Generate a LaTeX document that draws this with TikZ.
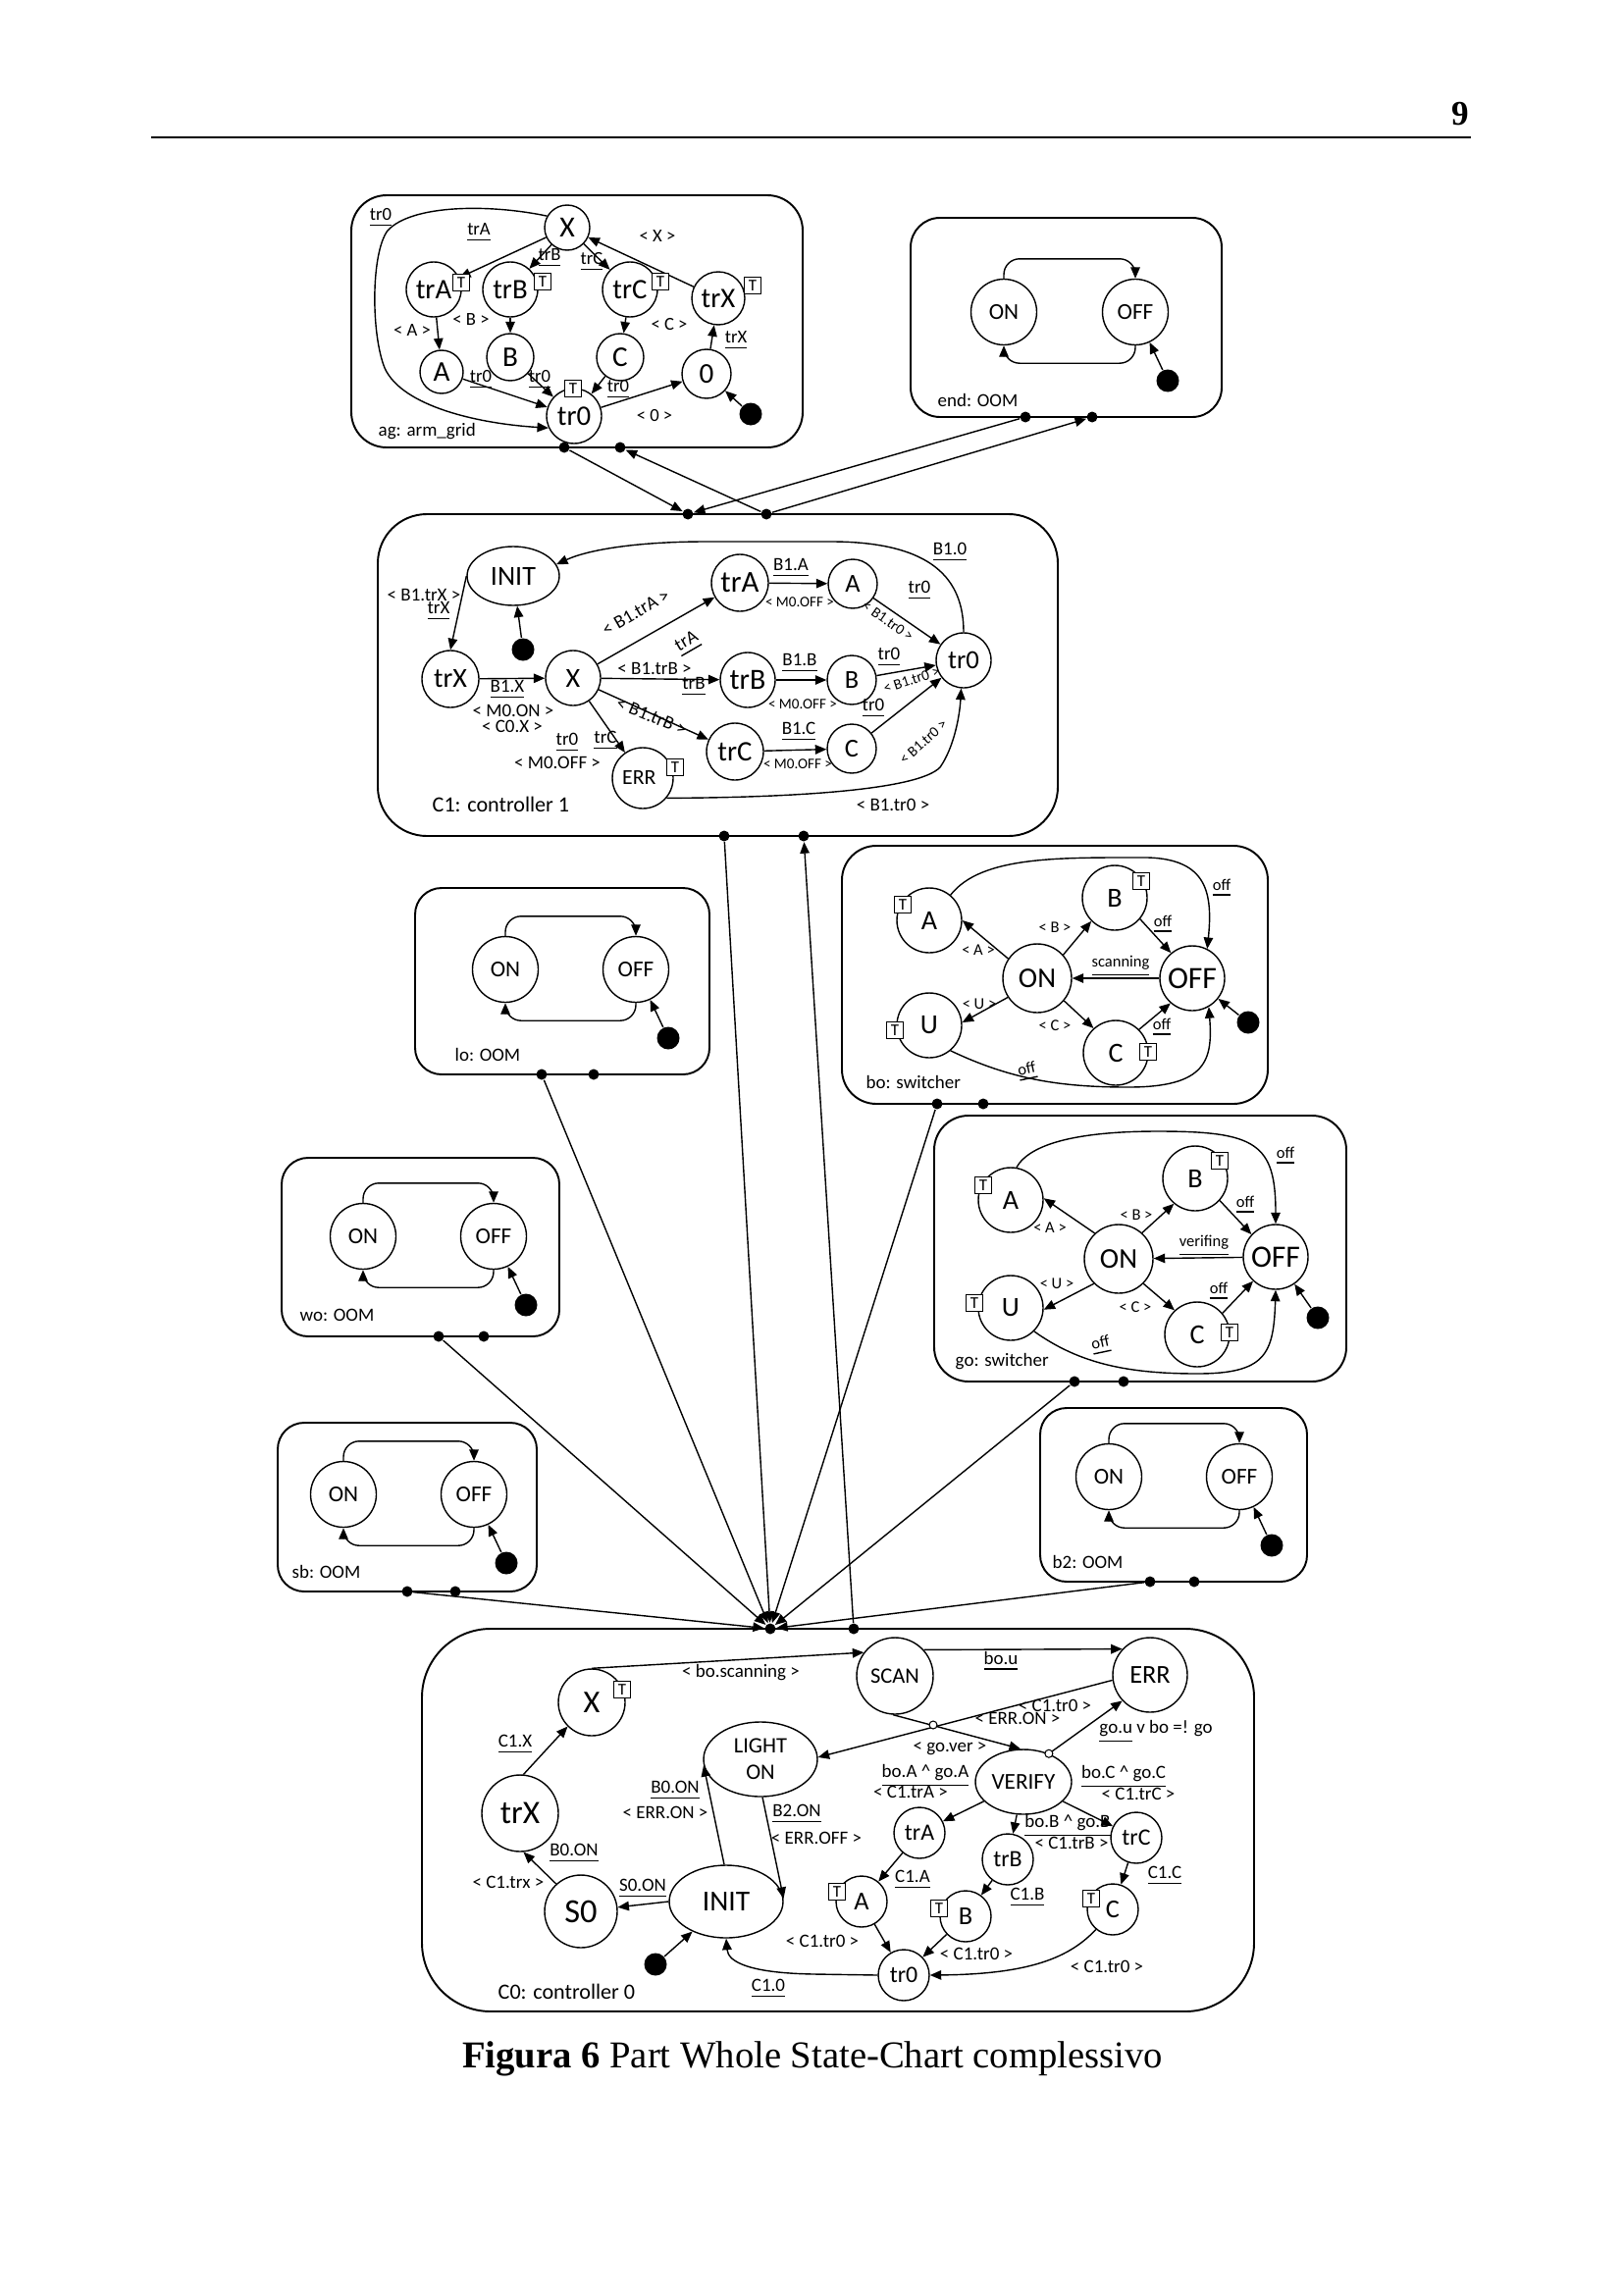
\documentclass[tikz,border=0pt]{standalone}
\usepackage{fontspec}
\setmainfont{Carlito}
\newfontfamily\capfont{Liberation Serif}
\usetikzlibrary{arrows.meta,shapes.geometric}
\newcommand\fsz[1]{\fontsize{#1}{#1}\selectfont}
\newcommand\oominner[4]{%
  \node[st,minimum size=6.7mm,font=\fsz{6.6}] (#1on) at (#2,#3) {ON};
  \node[st,minimum size=6.7mm,font=\fsz{6.6}] (#1off) at (#4,#3) {OFF};
  \draw[arr,rounded corners=1.6mm] (#1on.north) -- ++(0,-20) -| (#1off.north);
  \draw[arr,rounded corners=1.6mm] (#1off.south) -- ++(0,18) -| (#1on.south);
  \node[ini] (#1ini) at ({#4+33},{#3+70}) {};
  \draw[arr] (#1ini) -- (#1off);
}
\begin{document}
\begin{tikzpicture}[x=0.1mm,y=-0.1mm,
 st/.style={circle,draw,line width=0.4pt,inner sep=0pt,fill=white},
 el/.style={ellipse,draw,line width=0.4pt,inner sep=0pt,fill=white},
 tbx/.style={rectangle,draw,fill=white,line width=0.4pt,minimum size=1.7mm,inner sep=0pt,font=\fsz{4.8}},
 arr/.style={line width=0.4pt,-{Triangle[length=1.15mm,width=0.95mm]}},
 cbox/.style={draw,line width=0.55pt},
 ini/.style={circle,fill=black,inner sep=0pt,minimum size=2.3mm},
 port/.style={circle,fill=black,inner sep=0pt,minimum size=1.1mm},
 hop/.style={circle,draw,fill=white,inner sep=0pt,minimum size=0.8mm,line width=0.3pt},
 lba/.style={inner sep=0.3pt,font=\fsz{5.3}},
 lb/.style={inner sep=0.3pt,font=\fsz{5.4}},
 lbc/.style={inner sep=0.3pt,font=\fsz{5.4}},
 lbs/.style={inner sep=0.2pt,font=\fsz{4.3}},
 lbb/.style={inner sep=0.3pt,font=\fsz{4.7}},
 ttl/.style={inner sep=0pt,font=\fsz{5.4},anchor=west},
]
\useasboundingbox (0,0) rectangle (1654,2339);
\fill[white] (0,0) rectangle (1654,2339);

% header
\node[font=\capfont\bfseries\fsz{10}] (pg) at (1488,116) {9};
\draw[line width=0.5pt] (154,140) -- (1499,140);

% ================= ag: arm_grid
\draw[cbox,rounded corners=3.6mm] (358,199) rectangle (818,456);
\node[st,minimum size=4.6mm,font=\fsz{8.5}] (agX) at (578,232) {X};
\node[st,minimum size=5.6mm,font=\fsz{8.2}] (agtrA) at (442,295) {trA};
\node[st,minimum size=5.6mm,font=\fsz{8.2}] (agtrB) at (520,295) {trB};
\node[st,minimum size=5.6mm,font=\fsz{8.2}] (agtrC) at (642,295) {trC};
\node[st,minimum size=5.4mm,font=\fsz{8.2}] (agtrX) at (732,304) {trX};
\node[st,minimum size=4.4mm,font=\fsz{8.3}] (agA) at (450,379) {A};
\node[st,minimum size=4.8mm,font=\fsz{8.3}] (agB) at (520,364) {B};
\node[st,minimum size=4.8mm,font=\fsz{8.3}] (agC) at (632,364) {C};
\node[st,minimum size=5mm,font=\fsz{8.3}] (ag0) at (720,381) {0};
\node[st,minimum size=5.6mm,font=\fsz{8.2}] (agtr0) at (585,424) {tr0};
\node[ini] (agini) at (765,422) {};
\draw[arr] (agX) -- (agtrA);
\draw[arr] (agX) -- (agtrB);
\draw[arr] (agX) -- (agtrC);
\draw[arr] (agtrX) -- (agX);
\draw[arr] (agtrA) -- (agA);
\draw[arr] (agtrB) -- (agB);
\draw[arr] (agtrC) -- (agC);
\draw[arr] (ag0) -- (agtrX);
\draw[arr] (agA) -- (agtr0);
\draw[arr] (agB) -- (agtr0);
\draw[arr] (agC) -- (agtr0);
\draw[arr] (agtr0) -- (ag0);
\draw[arr] (agini) -- (ag0);
\draw[arr] (agX.150) .. controls (500,208) and (420,208) .. (395,235) .. controls (378,258) and (378,340) .. (392,375) .. controls (410,415) and (490,432) .. (agtr0.205);
\node[tbx] (agtAt) at (470,288) {T};
\node[tbx] (agtBt) at (553,287) {T};
\node[tbx] (agtCt) at (673,287) {T};
\node[tbx] (agtXt) at (767,291) {T};
\node[tbx] (agt0t) at (584,396) {T};
\node[lba] (agl1) at (388,222) {\underline{tr0}};
\node[lba] (agl2) at (488,237) {\underline{trA}};
\node[lba] (agl3) at (560,263) {\underline{trB}};
\node[lba] (agl4) at (603,267) {\underline{trC}};
\node[lba] (agl5) at (670,241) {< X >};
\node[lba] (agl6) at (420,337) {< A >};
\node[lba] (agl7) at (480,326) {< B >};
\node[lba] (agl8) at (682,331) {< C >};
\node[lba] (agl9) at (750,347) {\underline{trX}};
\node[lba] (agl10) at (490,387) {\underline{tr0}};
\node[lba] (agl11) at (550,387) {\underline{tr0}};
\node[lba] (agl12) at (630,397) {\underline{tr0}};
\node[lba] (agl13) at (667,424) {< 0 >};
\node[ttl] (agT) at (385,440) {ag: arm\_grid};
\node[port] (agP1) at (575,456) {};
\node[port] (agP2) at (632,456) {};

% ================= end: OOM
\draw[cbox,rounded corners=3mm] (928,222) rectangle (1245,425);
\oominner{en}{1023}{318}{1157}
\node[ttl] (enT) at (955,408) {end: OOM};
\node[port] (enP1) at (1045,425) {};
\node[port] (enP2) at (1113,425) {};

% ================= C1: controller 1
\draw[cbox,rounded corners=5mm] (385,524) rectangle (1078,852);
\node[el,minimum width=9.4mm,minimum height=6mm,font=\fsz{8}] (c1INIT) at (523,587) {INIT};
\node[ini] (c1ini) at (533,662) {};
\node[st,minimum size=5.8mm,font=\fsz{8}] (c1trX) at (459,692) {trX};
\node[st,minimum size=5.6mm,font=\fsz{8}] (c1X) at (584,691) {X};
\node[st,minimum size=6.2mm,font=\fsz{6.2}] (c1ERR) at (655,793) {ERR\,\,};
\node[st,minimum size=5.8mm,font=\fsz{8.8}] (c1trA) at (754,594) {trA};
\node[st,minimum size=5mm,font=\fsz{7.5}] (c1A) at (869,595) {A};
\node[st,minimum size=5.6mm,font=\fsz{8.5}] (c1trB) at (762,693) {trB};
\node[st,minimum size=5mm,font=\fsz{7.5}] (c1B) at (868,693) {B};
\node[st,minimum size=5.8mm,font=\fsz{8.2}] (c1trC) at (749,766) {trC};
\node[st,minimum size=5mm,font=\fsz{7.5}] (c1C) at (868,763) {C};
\node[st,minimum size=5.6mm,font=\fsz{7.6}] (c1tr0) at (982,673) {tr0};
\draw[arr] (c1INIT.west) -- (c1trX.north);
\draw[arr] (c1ini) -- (c1INIT);
\draw[arr] (c1trX) -- (c1X);
\draw[arr] (c1X) -- (c1trA);
\draw[arr] (c1X) -- (c1trB);
\draw[arr] (c1X) -- (c1trC);
\draw[arr] (c1X) -- (c1ERR);
\draw[arr] (c1trA) -- (c1A);
\draw[arr] (c1trB) -- (c1B);
\draw[arr] (c1trC) -- (c1C);
\draw[arr] (c1A) -- (c1tr0);
\draw[arr] (c1B) -- (c1tr0);
\draw[arr] (c1C) -- (c1tr0);
\draw[arr] (c1tr0.north) .. controls (982,590) and (950,553) .. (850,552) -- (720,552) .. controls (650,552) and (600,560) .. (c1INIT.15);
\draw[arr] (c1ERR.-40) .. controls (800,813) and (935,806) .. (958,782) .. controls (972,762) and (978,730) .. (c1tr0.-95);
\node[tbx] (c1ERRt) at (688,782) {T};
\node[lb] (c1l1) at (432,606) {< B1.trX >};
\node[lb] (c1l2) at (447,623) {\underline{trX}};
\node[lb] (c1l3) at (517,703) {\underline{B1.X}};
\node[lb] (c1l4) at (523,724) {< M0.ON >};
\node[lb] (c1l5) at (522,740) {< C0.X >};
\node[lb,rotate=30] (c1l6) at (648,624) {< B1.trA >};
\node[lb,rotate=30] (c1l7) at (701,656) {\underline{trA}};
\node[lb] (c1l8) at (667,681) {< B1.trB >};
\node[lb] (c1l9) at (707,700) {\underline{trB}};
\node[lb,rotate=-22] (c1l10) at (664,730) {< B1.trB >};
\node[lb] (c1l11) at (617,755) {\underline{trC}};
\node[lb] (c1l12) at (578,757) {\underline{tr0}};
\node[lb] (c1l13) at (568,777) {< M0.OFF >};
\node[lb] (c1l14) at (806,579) {\underline{B1.A}};
\node[lbs] (c1l15) at (815,614) {< M0.OFF >};
\node[lb] (c1l16) at (815,676) {\underline{B1.B}};
\node[lbs] (c1l17) at (818,718) {< M0.OFF >};
\node[lb] (c1l18) at (814,746) {\underline{B1.C}};
\node[lbs] (c1l19) at (813,779) {< M0.OFF >};
\node[lb] (c1l20) at (937,602) {\underline{tr0}};
\node[lbs,rotate=-35] (c1l21) at (905,633) {< B1.tr0 >};
\node[lb] (c1l22) at (906,670) {\underline{tr0}};
\node[lbs,rotate=18] (c1l23) at (929,693) {< B1.tr0 >};
\node[lb] (c1l24) at (890,722) {\underline{tr0}};
\node[lbs,rotate=42] (c1l25) at (941,756) {< B1.tr0 >};
\node[lb] (c1l26) at (968,563) {\underline{B1.0}};
\node[lb] (c1l27) at (910,820) {< B1.tr0 >};
\node[ttl,font=\fsz{6.3}] (c1T) at (440,820) {C1: controller 1};
\node[port] (c1P1) at (701,524) {};
\node[port] (c1P2) at (781,524) {};
\node[port] (c1P3) at (738,852) {};
\node[port] (c1P4) at (819,852) {};

% ================= lo / wo / sb / b2
\draw[cbox,rounded corners=2.7mm] (423,905) rectangle (723,1095);
\oominner{lo}{515}{988}{648}
\node[ttl] (loT) at (463,1075) {lo: OOM};
\node[port] (loP1) at (552,1095) {};
\node[port] (loP2) at (605,1095) {};

\draw[cbox,rounded corners=2.7mm] (287,1180) rectangle (570,1362);
\oominner{wo}{370}{1260}{503}
\node[ttl] (woT) at (305,1340) {wo: OOM};
\node[port] (woP1) at (447,1362) {};
\node[port] (woP2) at (493,1362) {};

\draw[cbox,rounded corners=2.7mm] (283,1450) rectangle (547,1622);
\oominner{sb}{350}{1523}{483}
\node[ttl] (sbT) at (297,1602) {sb: OOM};
\node[port] (sbP1) at (415,1622) {};
\node[port] (sbP2) at (464,1622) {};

\draw[cbox,rounded corners=2.7mm] (1060,1435) rectangle (1332,1612);
\oominner{bt}{1130}{1505}{1263}
\node[ttl] (btT) at (1072,1592) {b2: OOM};
\node[port] (btP1) at (1172,1612) {};
\node[port] (btP2) at (1217,1612) {};

% ================= bo: switcher
\draw[cbox,rounded corners=3.5mm] (858,862) rectangle (1292,1125);
\node[st,minimum size=6.6mm,font=\fsz{8}] (boA) at (947,938) {A};
\node[st,minimum size=6.6mm,font=\fsz{8}] (boB) at (1136,915) {B};
\node[st,minimum size=7mm,font=\fsz{8.3}] (boON) at (1057,997) {ON};
\node[st,minimum size=6.6mm,font=\fsz{9}] (boOFF) at (1215,997) {OFF};
\node[st,minimum size=6.6mm,font=\fsz{8}] (boU) at (947,1045) {U};
\node[st,minimum size=6.6mm,font=\fsz{8}] (boC) at (1137,1073) {C};
\node[ini] (boini) at (1272,1042) {};
\draw[arr] (boON.146) -- (boA.0);
\draw[arr] (boON.42) -- (boB.225);
\draw[arr] (boON.213) -- (boU.5);
\draw[arr] (boON.-40) -- (boC.132);
\draw[arr] (boOFF) -- (boON);
\draw[arr] (boB.-40) -- (boOFF.130);
\draw[arr] (boC.45) -- (boOFF.-131);
\draw[arr] (boini) -- (boOFF);
\draw[arr] (boA.50) .. controls (1000,872) and (1080,874) .. (1170,874) .. controls (1230,876) and (1236,910) .. (boOFF.63);
\draw[arr] (boU.-50) .. controls (1030,1100) and (1080,1108) .. (1150,1108) .. controls (1230,1108) and (1236,1080) .. (boOFF.-60);
\node[tbx] (boAt) at (920,922) {T};
\node[tbx] (boBt) at (1163,898) {T};
\node[tbx] (boUt) at (912,1050) {T};
\node[tbx] (boCt) at (1170,1072) {T};
\node[lbb] (bol1) at (997,968) {< A >};
\node[lbb] (bol2) at (1075,945) {< B >};
\node[lbb] (bol3) at (998,1023) {< U >};
\node[lbb] (bol4) at (1075,1045) {< C >};
\node[lbb] (bol5) at (1142,985) {\underline{scanning}};
\node[lbb] (bol6) at (1185,942) {\underline{off}};
\node[lbb] (bol7) at (1184,1047) {\underline{off}};
\node[lbb] (bol8) at (1245,905) {\underline{off}};
\node[lbb,rotate=12] (bol9) at (1047,1092) {\underline{off}};
\node[ttl] (boT) at (882,1103) {bo: switcher};
\node[port] (boP1) at (955,1125) {};
\node[port] (boP2) at (1002,1125) {};

% ================= go: switcher
\draw[cbox,rounded corners=3.5mm] (952,1137) rectangle (1372,1408);
\node[st,minimum size=6.6mm,font=\fsz{8}] (goA) at (1030,1223) {A};
\node[st,minimum size=6.6mm,font=\fsz{8}] (goB) at (1218,1201) {B};
\node[st,minimum size=7mm,font=\fsz{8.3}] (goON) at (1140,1283) {ON};
\node[st,minimum size=6.6mm,font=\fsz{9}] (goOFF) at (1300,1281) {OFF};
\node[st,minimum size=6.6mm,font=\fsz{8}] (goU) at (1030,1333) {U};
\node[st,minimum size=6.6mm,font=\fsz{8}] (goC) at (1220,1360) {C};
\node[ini] (goini) at (1343,1343) {};
\draw[arr] (goON.133) -- (goA.3);
\draw[arr] (goON.48) -- (goB.230);
\draw[arr] (goON.-135) -- (goU.-3);
\draw[arr] (goON.-45) -- (goC.133);
\draw[arr] (goOFF) -- (goON);
\draw[arr] (goB.-42) -- (goOFF.137);
\draw[arr] (goC.40) -- (goOFF.-133);
\draw[arr] (goini) -- (goOFF);
\draw[arr] (goA.80) .. controls (1050,1165) and (1100,1153) .. (1180,1153) .. controls (1280,1153) and (1300,1165) .. (goOFF.north);
\draw[arr] (goU.-45) .. controls (1100,1390) and (1150,1400) .. (1220,1400) .. controls (1290,1400) and (1298,1380) .. (goOFF.south);
\node[tbx] (goAt) at (1002,1208) {T};
\node[tbx] (goBt) at (1243,1183) {T};
\node[tbx] (goUt) at (993,1328) {T};
\node[tbx] (goCt) at (1253,1358) {T};
\node[lbb] (gol1) at (1070,1251) {< A >};
\node[lbb] (gol2) at (1158,1238) {< B >};
\node[lbb] (gol3) at (1077,1308) {< U >};
\node[lbb] (gol4) at (1157,1332) {< C >};
\node[lbb] (gol5) at (1227,1270) {\underline{verifing}};
\node[lbb] (gol6) at (1269,1228) {\underline{off}};
\node[lbb] (gol7) at (1242,1316) {\underline{off}};
\node[lbb] (gol8) at (1310,1178) {\underline{off}};
\node[lbb,rotate=12] (gol9) at (1122,1371) {\underline{off}};
\node[ttl] (goT) at (973,1388) {go: switcher};
\node[port] (goP1) at (1095,1408) {};
\node[port] (goP2) at (1145,1408) {};

% ================= C0: controller 0
\draw[cbox,rounded corners=7mm] (430,1660) rectangle (1278,2050);
\node[st,minimum size=6.8mm,font=\fsz{9.2}] (c0X) at (603,1735) {X};
\node[el,minimum width=11.6mm,minimum height=7.6mm,font=\fontsize{6.4}{7.7}\selectfont,align=center] (c0LIGHT) at (775,1793) {LIGHT\\ON};
\node[st,minimum size=7.8mm,font=\fsz{9.5}] (c0trX) at (530,1848) {trX};
\node[st,minimum size=7.4mm,font=\fsz{9.8}] (c0S0) at (592,1948) {S0};
\node[el,minimum width=11.6mm,minimum height=7.4mm,font=\fsz{8.4}] (c0INIT) at (740,1938) {INIT};
\node[ini] (c0ini) at (668,2002) {};
\node[st,minimum size=7.8mm,font=\fsz{6.4}] (c0SCAN) at (912,1708) {SCAN};
\node[st,minimum size=7.6mm,font=\fsz{7.5}] (c0ERR) at (1172,1707) {ERR};
\node[el,minimum width=9.8mm,minimum height=6.6mm,font=\fsz{6.6}] (c0VER) at (1043,1816) {VERIFY};
\node[st,minimum size=5.2mm,font=\fsz{6.8}] (c0trA) at (937,1868) {trA};
\node[st,minimum size=5.2mm,font=\fsz{6.8}] (c0trB) at (1027,1895) {trB};
\node[st,minimum size=5.2mm,font=\fsz{6.8}] (c0trC) at (1158,1873) {trC};
\node[st,minimum size=5.2mm,font=\fsz{7.5}] (c0A) at (878,1938) {A};
\node[st,minimum size=5.2mm,font=\fsz{7.5}] (c0B) at (984,1953) {B};
\node[st,minimum size=5.2mm,font=\fsz{7.5}] (c0C) at (1134,1946) {C};
\node[st,minimum size=5.2mm,font=\fsz{6.8}] (c0tr0) at (921,2013) {tr0};
\draw[arr] (c0INIT.west) -- (c0S0);
\draw[arr] (c0S0.132) -- (c0trX.-85);
\draw[arr] (c0trX.85) -- (c0X.225);
\draw[arr] (c0ini) -- (c0INIT);
\draw[arr] (c0INIT.93) -- (c0LIGHT.186);
\draw[arr] (c0LIGHT.-87) -- (c0INIT.3);
\draw[arr] (c0X.north) -- (c0SCAN.143);
\draw[arr] (c0SCAN.42) -- (c0ERR.137);
\draw[arr] (c0ERR.188) -- (c0LIGHT.2);
\draw[arr] (c0SCAN.-93) -- (c0VER.95);
\draw[arr] (c0VER.48) -- (c0ERR.223);
\draw[arr] (c0VER) -- (c0trA);
\draw[arr] (c0VER) -- (c0trB);
\draw[arr] (c0VER) -- (c0trC);
\draw[arr] (c0trA) -- (c0A);
\draw[arr] (c0trB) -- (c0B);
\draw[arr] (c0trC) -- (c0C);
\draw[arr] (c0A) -- (c0tr0);
\draw[arr] (c0B) -- (c0tr0);
\draw[arr] (c0C.-130) .. controls (1090,1995) and (1050,2012) .. (c0tr0.east);
\draw[arr] (c0tr0.west) -- (830,2012) .. controls (765,2011) and (742,2000) .. (c0INIT.south);
\node[hop] (c0hop1) at (951,1758) {};
\node[hop] (c0hop2) at (c0VER.48) {};
\node[tbx] (c0Xt) at (634,1722) {T};
\node[tbx] (c0At) at (853,1928) {T};
\node[tbx] (c0Bt) at (957,1945) {T};
\node[tbx] (c0Ct) at (1112,1935) {T};
\node[lbc] (c0l1) at (755,1705) {< bo.scanning >};
\node[lbc] (c0l2) at (1020,1693) {\underline{bo.u}};
\node[lbc] (c0l3) at (1075,1738) {< C1.tr0 >};
\node[lbc] (c0l4) at (1037,1751) {< ERR.ON >};
\node[lbc] (c0l5) at (968,1782) {< go.ver >};
\node[lbc] (c0l6) at (1178,1765) {\underline{go.u} v bo =! go};
\node[lbc] (c0l7) at (943,1810) {\underline{bo.A \textasciicircum{} go.A}};
\node[lbc] (c0l8) at (928,1826) {< C1.trA >};
\node[lbc] (c0l9) at (1088,1861) {\underline{bo.B \textasciicircum{} go.B}};
\node[lbc] (c0l10) at (1092,1878) {< C1.trB >};
\node[lbc] (c0l11) at (1145,1811) {\underline{bo.C \textasciicircum{} go.C}};
\node[lbc] (c0l12) at (1160,1828) {< C1.trC >};
\node[lbc] (c0l13) at (930,1916) {\underline{C1.A}};
\node[lbc] (c0l14) at (1047,1934) {\underline{C1.B}};
\node[lbc] (c0l15) at (1187,1912) {\underline{C1.C}};
\node[lbc] (c0l16) at (838,1978) {< C1.tr0 >};
\node[lbc] (c0l17) at (995,1991) {< C1.tr0 >};
\node[lbc] (c0l18) at (1128,2004) {< C1.tr0 >};
\node[lbc] (c0l19) at (783,2027) {\underline{C1.0}};
\node[lbc] (c0l20) at (655,1925) {\underline{S0.ON}};
\node[lbc] (c0l21) at (585,1889) {\underline{B0.ON}};
\node[lbc] (c0l22) at (518,1918) {< C1.trx >};
\node[lbc] (c0l23) at (525,1778) {\underline{C1.X}};
\node[lbc] (c0l24) at (688,1825) {\underline{B0.ON}};
\node[lbc] (c0l25) at (678,1847) {< ERR.ON >};
\node[lbc] (c0l26) at (812,1849) {\underline{B2.ON}};
\node[lbc] (c0l27) at (832,1873) {< ERR.OFF >};
\node[ttl,font=\fsz{6.3}] (c0T) at (507,2030) {C0: controller 0};
\node[port] (c0P1) at (785,1660) {};
\node[port] (c0P2) at (870,1660) {};

% ================= inter-component connectors
\draw[arr] (agP1) -- (c1P1);
\draw[arr] (c1P2) -- (agP2);
\draw[arr] (enP1) -- (c1P1);
\draw[arr] (c1P2) -- (enP2);
\draw[arr] (c1P3) -- (c0P1);
\draw[arr] (c0P2) -- (c1P4);
\draw[arr] (loP1) -- (c0P1);
\draw[arr] (woP1) -- (c0P1);
\draw[arr] (sbP1) -- (c0P1);
\draw[arr] (boP1) -- (c0P1);
\draw[arr] (goP1) -- (c0P1);
\draw[arr] (btP1) -- (c0P1);

% caption
\node[font=\capfont\fontsize{11}{13}\selectfont] (cap) at (828,2098) {\textbf{Figura 6} Part Whole State-Chart complessivo};
\end{tikzpicture}
\end{document}
